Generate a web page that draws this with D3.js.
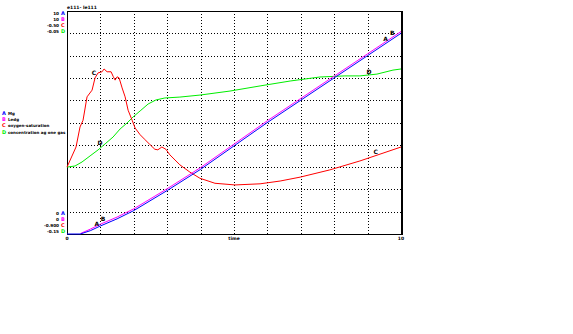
<!DOCTYPE html>
<html>
<head>
<meta charset="utf-8">
<script src="https://cdn.jsdelivr.net/npm/d3@7"></script>
<style>
  html, body { margin: 0; padding: 0; background: #fff; }
  svg { display: block; }
  text { font-family: "DejaVu Sans", sans-serif; font-weight: bold; fill: #000; }
</style>
</head>
<body>
<svg id="chart" width="573" height="334"></svg>
<script>
// ---- data ----
const title = "e111- le111";
const xTicks = [0, 10];
const xLabel = "time";

const seriesKeys = ["A", "B", "C", "D"];
const seriesNames = ["Mg", "Ledg", "oxygen-saturation", "concentration ag one gas"];
const seriesColors = ["#0000ff", "#ff00ff", "#ff0000", "#00ee00"];
const axisTopLabels = ["10", "10", "-0.50", "-0.05"];
const axisBottomLabels = ["0", "0", "-0.900", "-0.15"];
const axisDomains = [[0, 10], [0, 10], [-0.9, -0.5], [-0.15, -0.05]];

const timeA = [0, 0.4, 0.7, 1, 1.5, 2, 3, 4, 5, 6, 7, 8, 9, 10];
const valuesA = [0, 0, 0.15, 0.36, 0.68, 1.05, 1.95, 2.9, 3.95, 5.0, 6.0, 7.0, 8.0, 9.0];
const timeB = [0.4, 0.7, 1, 1.5, 2, 3, 4, 5, 6, 7, 8, 9, 10];
const valuesB = [0.02, 0.22, 0.44, 0.76, 1.13, 2.03, 2.98, 4.03, 5.08, 6.08, 7.08, 8.08, 9.08];

const timeC = [0, 0.27, 0.39, 0.48, 0.6, 0.75, 0.84, 0.93, 1.05, 1.11, 1.2, 1.32, 1.38, 1.44,
  1.5, 1.56, 1.65, 1.74, 1.83, 1.95, 2.04, 2.19, 2.34, 2.49, 2.63, 2.72, 2.84, 2.96, 3.08,
  3.38, 3.68, 3.98, 4.43, 5.03, 5.78, 6.38, 6.98, 7.87, 8.77, 10];
const valuesC = [-0.780, -0.744, -0.708, -0.696, -0.654, -0.642, -0.620, -0.611, -0.609, -0.604,
  -0.609, -0.609, -0.617, -0.624, -0.618, -0.620, -0.638, -0.654, -0.678, -0.696, -0.710,
  -0.722, -0.731, -0.740, -0.748, -0.749, -0.744, -0.748, -0.758, -0.776, -0.789, -0.800,
  -0.809, -0.812, -0.810, -0.805, -0.798, -0.785, -0.769, -0.744];

const timeD = [0, 0.24, 0.45, 0.69, 0.93, 1.14, 1.38, 1.59, 1.8, 1.98, 2.19, 2.43, 2.66, 2.93,
  3.38, 3.98, 4.88, 5.78, 6.68, 7.57, 8.32, 8.77, 9.28, 9.76, 10];
const valuesD = [-0.1200, -0.1195, -0.1177, -0.1150, -0.1123, -0.1096, -0.1065, -0.1029, -0.1002,
  -0.0975, -0.0948, -0.0917, -0.0899, -0.0890, -0.0886, -0.0877, -0.0859, -0.0836, -0.0814,
  -0.0796, -0.0791, -0.0791, -0.0783, -0.0765, -0.0760];

// curve marker letters: [series index, time]
const markerTimes = [[0, 0.95], [1, 1.14], [2, 0.87], [3, 1.05], [0, 9.6], [1, 9.8], [2, 9.3], [3, 9.1]];

// ---- layout ----
const plot = { left: 67, right: 401, top: 11, bottom: 234 };
const svg = d3.select("#chart");

const x = d3.scaleLinear().domain([0, 10]).range([plot.left, plot.right]);
const yScales = axisDomains.map(d => d3.scaleLinear().domain(d).range([plot.bottom, plot.top]));

// dotted grid (10 x 10 cells)
const grid = svg.append("g");
d3.range(1, 10).forEach(i => {
  const gx = plot.left + (plot.right - plot.left) * i / 10;
  const gy = plot.top + (plot.bottom - plot.top) * i / 10;
  grid.append("line").attr("x1", Math.round(gx) + 0.5).attr("x2", Math.round(gx) + 0.5)
    .attr("y1", plot.top).attr("y2", plot.bottom)
    .attr("stroke", "#000").attr("stroke-dasharray", "1,2");
  grid.append("line").attr("y1", Math.round(gy) + 0.5).attr("y2", Math.round(gy) + 0.5)
    .attr("x1", plot.left).attr("x2", plot.right)
    .attr("stroke", "#000").attr("stroke-dasharray", "1,2");
});

// frame
svg.append("rect")
  .attr("x", plot.left + 0.5).attr("y", plot.top + 0.5)
  .attr("width", plot.right - plot.left).attr("height", plot.bottom - plot.top)
  .attr("fill", "none").attr("stroke", "#000").attr("stroke-width", 1);
svg.append("line").attr("x1", plot.right + 1.5).attr("x2", plot.right + 1.5)
  .attr("y1", plot.top).attr("y2", plot.bottom + 1).attr("stroke", "#000");

// series
const seriesData = [
  timeA.map((t, i) => [t, valuesA[i]]),
  timeB.map((t, i) => [t, valuesB[i]]),
  timeC.map((t, i) => [t, valuesC[i]]),
  timeD.map((t, i) => [t, valuesD[i]])
];
const drawOrder = [3, 2, 1, 0];
drawOrder.forEach(k => {
  const line = d3.line().x(d => x(d[0])).y(d => yScales[k](d[1]));
  svg.append("path")
    .datum(seriesData[k])
    .attr("d", line)
    .attr("fill", "none")
    .attr("stroke", seriesColors[k])
    .attr("stroke-width", 1);
});

// marker letters along curves
function valueAt(k, t) {
  const d = seriesData[k];
  for (let i = 1; i < d.length; i++) {
    if (t <= d[i][0]) {
      const f = (t - d[i - 1][0]) / (d[i][0] - d[i - 1][0]);
      return d[i - 1][1] + f * (d[i][1] - d[i - 1][1]);
    }
  }
  return d[d.length - 1][1];
}
markerTimes.forEach(([k, t]) => {
  svg.append("text")
    .attr("x", x(t) - 2)
    .attr("y", yScales[k](valueAt(k, t)) - 1)
    .attr("font-size", 6)
    .attr("text-anchor", "middle")
    .text(seriesKeys[k]);
});

// title
svg.append("text").attr("x", plot.left).attr("y", 9).attr("font-size", 4.5).text(title);

// left scale labels (top and bottom, one per series)
seriesKeys.forEach((key, i) => {
  const yt = 15 + i * 6;
  const yb = 215 + i * 6;
  [[yt, axisTopLabels[i]], [yb, axisBottomLabels[i]]].forEach(([yy, lab]) => {
    svg.append("text").attr("x", 59).attr("y", yy).attr("font-size", 4.2)
      .attr("text-anchor", "end").text(lab);
    svg.append("text").attr("x", 61).attr("y", yy).attr("font-size", 5)
      .style("fill", seriesColors[i]).text(key);
  });
});

// legend
seriesKeys.forEach((key, i) => {
  const yy = 115 + i * 6.2;
  svg.append("text").attr("x", 2).attr("y", yy).attr("font-size", 5)
    .style("fill", seriesColors[i]).text(key);
  svg.append("text").attr("x", 8).attr("y", yy).attr("font-size", 4)
    .text(seriesNames[i]);
});

// x axis labels
xTicks.forEach(t => {
  svg.append("text").attr("x", x(t)).attr("y", 240).attr("font-size", 4.5)
    .attr("text-anchor", "middle").text(t);
});
svg.append("text").attr("x", x(5)).attr("y", 240).attr("font-size", 4.5)
  .attr("text-anchor", "middle").text(xLabel);
</script>
</body>
</html>
